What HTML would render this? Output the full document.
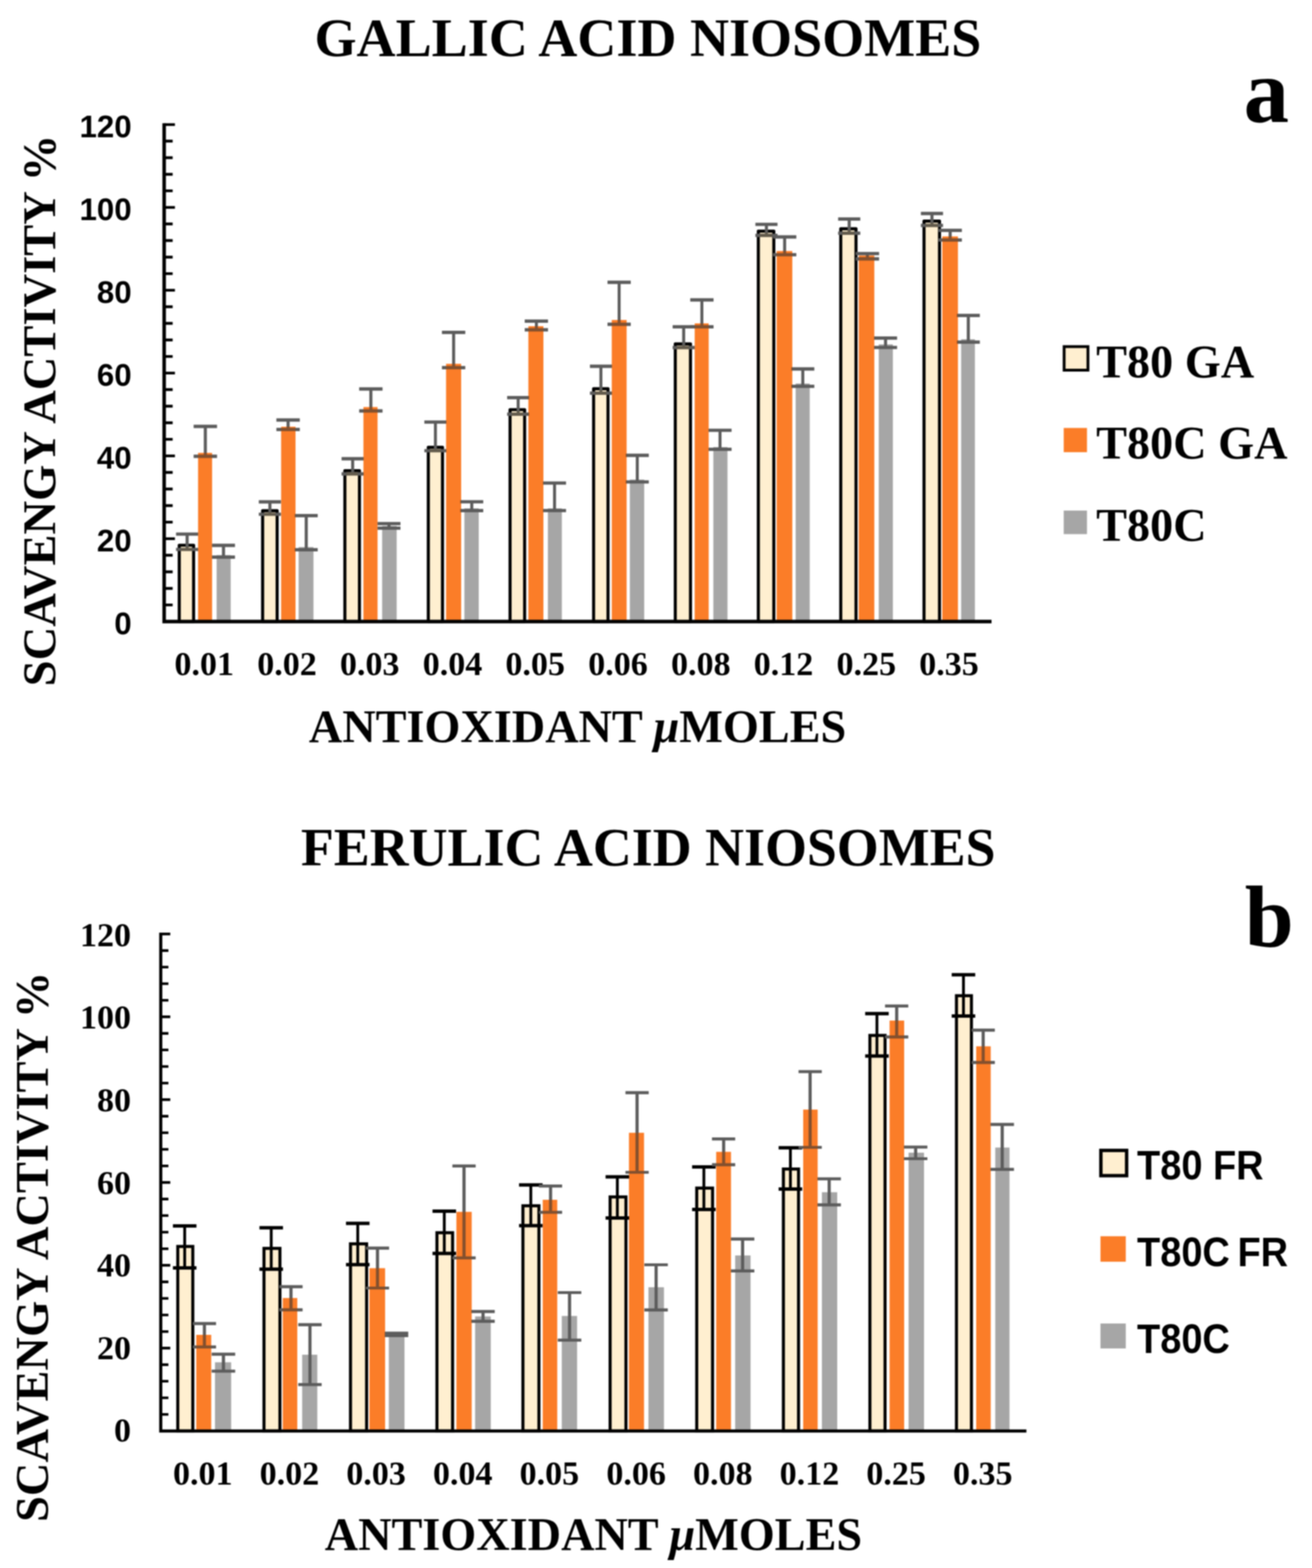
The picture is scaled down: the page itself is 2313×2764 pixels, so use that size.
<!DOCTYPE html>
<html lang="en">
<head>
<meta charset="utf-8">
<title>Scavenging activity of gallic acid and ferulic acid niosomes</title>
<style>
html,body{margin:0;padding:0;background:#fff}
body{width:2313px;height:2764px;overflow:hidden}
svg{display:block;filter:blur(0.8px)}
text{fill:#000;font-weight:700}
.se{font-family:"Liberation Serif","DejaVu Serif",serif}
.sa{font-family:"Liberation Sans","DejaVu Sans",sans-serif}
.mu{font-style:italic}
.eb{mix-blend-mode:luminosity}
</style>
</head>
<body>
<svg width="2313" height="2764" viewBox="0 0 2313 2764" role="img" aria-label="Bar charts of scavenging activity versus antioxidant micromoles">
<rect width="2313" height="2764" fill="#fff"/>
<g id="chart-a">
<text x="1142.3" y="99.3" font-size="95.3" text-anchor="middle" class="se">GALLIC ACID NIOSOMES</text>
<text x="2232.5" y="214.8" font-size="160" text-anchor="middle" class="se">a</text>
<text transform="translate(97.3 723.6) rotate(-90)" font-size="82" text-anchor="middle" class="se">SCAVENGY ACTIVITY %</text>
<text x="1018.2" y="1308.3" font-size="81.5" text-anchor="middle" class="se">ANTIOXIDANT <tspan class="mu">μ</tspan>MOLES</text>
<text x="232" y="1118.2" font-size="55" text-anchor="end" class="sa">0</text>
<text x="232" y="972.2" font-size="55" text-anchor="end" class="sa">20</text>
<text x="232" y="826.2" font-size="55" text-anchor="end" class="sa">40</text>
<text x="232" y="680.2" font-size="55" text-anchor="end" class="sa">60</text>
<text x="232" y="534.2" font-size="55" text-anchor="end" class="sa">80</text>
<text x="232" y="388.2" font-size="55" text-anchor="end" class="sa">100</text>
<text x="232" y="242.2" font-size="55" text-anchor="end" class="sa">120</text>
<rect x="316" y="961.1" width="25.3" height="134.5" fill="#ffefd0" stroke="#000" stroke-width="5.4" stroke-linejoin="round"/>
<rect x="349.2" y="798.3" width="24.7" height="297.3" fill="#fb7d28"/>
<rect x="381.9" y="978.5" width="24.8" height="117.1" fill="#a6a6a6"/>
<g class="eb" stroke="#5c5c5c" fill="none"><path d="M329.9 941.5V968.5" stroke-width="5.2"/><path d="M310.5 941.5H349.3M310.5 968.5H349.3" stroke-width="5.7"/></g><g opacity="0.5" stroke="#5c5c5c" fill="none"><path d="M329.9 941.5V968.5" stroke-width="5.2"/><path d="M310.5 941.5H349.3M310.5 968.5H349.3" stroke-width="5.7"/></g>
<g class="eb" stroke="#5c5c5c" fill="none"><path d="M362 751.7V804.3" stroke-width="5.2"/><path d="M341.5 751.7H382.5M341.5 804.3H382.5" stroke-width="5.7"/></g><g opacity="0.5" stroke="#5c5c5c" fill="none"><path d="M362 751.7V804.3" stroke-width="5.2"/><path d="M341.5 751.7H382.5M341.5 804.3H382.5" stroke-width="5.7"/></g>
<g class="eb" stroke="#5c5c5c" fill="none"><path d="M394 961.4V982.2" stroke-width="5.2"/><path d="M373.8 961.4H414.2M373.8 982.2H414.2" stroke-width="5.7"/></g><g opacity="0.5" stroke="#5c5c5c" fill="none"><path d="M394 961.4V982.2" stroke-width="5.2"/><path d="M373.8 961.4H414.2M373.8 982.2H414.2" stroke-width="5.7"/></g>
<rect x="463" y="900.2" width="25.6" height="195.4" fill="#ffefd0" stroke="#000" stroke-width="5.4" stroke-linejoin="round"/>
<rect x="495.6" y="752.2" width="25.4" height="343.4" fill="#fb7d28"/>
<rect x="526.5" y="964.3" width="26.1" height="131.3" fill="#a6a6a6"/>
<g class="eb" stroke="#5c5c5c" fill="none"><path d="M475.8 884.6V906.5" stroke-width="5.2"/><path d="M456.4 884.6H495.2M456.4 906.5H495.2" stroke-width="5.7"/></g><g opacity="0.5" stroke="#5c5c5c" fill="none"><path d="M475.8 884.6V906.5" stroke-width="5.2"/><path d="M456.4 884.6H495.2M456.4 906.5H495.2" stroke-width="5.7"/></g>
<g class="eb" stroke="#5c5c5c" fill="none"><path d="M507.9 740.3V757.1" stroke-width="5.2"/><path d="M487.4 740.3H528.4M487.4 757.1H528.4" stroke-width="5.7"/></g><g opacity="0.5" stroke="#5c5c5c" fill="none"><path d="M507.9 740.3V757.1" stroke-width="5.2"/><path d="M487.4 740.3H528.4M487.4 757.1H528.4" stroke-width="5.7"/></g>
<g class="eb" stroke="#5c5c5c" fill="none"><path d="M539.9 908.8V969.1" stroke-width="5.2"/><path d="M519.7 908.8H560.1M519.7 969.1H560.1" stroke-width="5.7"/></g><g opacity="0.5" stroke="#5c5c5c" fill="none"><path d="M539.9 908.8V969.1" stroke-width="5.2"/><path d="M519.7 908.8H560.1M519.7 969.1H560.1" stroke-width="5.7"/></g>
<rect x="608" y="829.7" width="25.7" height="265.9" fill="#ffefd0" stroke="#000" stroke-width="5.4" stroke-linejoin="round"/>
<rect x="640.7" y="717.5" width="24.9" height="378.1" fill="#fb7d28"/>
<rect x="673.7" y="927" width="25.6" height="168.6" fill="#a6a6a6"/>
<g class="eb" stroke="#5c5c5c" fill="none"><path d="M621.7 808.6V835.3" stroke-width="5.2"/><path d="M602.3 808.6H641.1M602.3 835.3H641.1" stroke-width="5.7"/></g><g opacity="0.5" stroke="#5c5c5c" fill="none"><path d="M621.7 808.6V835.3" stroke-width="5.2"/><path d="M602.3 808.6H641.1M602.3 835.3H641.1" stroke-width="5.7"/></g>
<g class="eb" stroke="#5c5c5c" fill="none"><path d="M653.8 685.7V724.4" stroke-width="5.2"/><path d="M633.3 685.7H674.3M633.3 724.4H674.3" stroke-width="5.7"/></g><g opacity="0.5" stroke="#5c5c5c" fill="none"><path d="M653.8 685.7V724.4" stroke-width="5.2"/><path d="M633.3 685.7H674.3M633.3 724.4H674.3" stroke-width="5.7"/></g>
<g class="eb" stroke="#5c5c5c" fill="none"><path d="M685.8 923V931" stroke-width="5.2"/><path d="M665.6 923H706M665.6 931H706" stroke-width="5.7"/></g><g opacity="0.5" stroke="#5c5c5c" fill="none"><path d="M685.8 923V931" stroke-width="5.2"/><path d="M665.6 923H706M665.6 931H706" stroke-width="5.7"/></g>
<rect x="755.1" y="788.5" width="25" height="307.1" fill="#ffefd0" stroke="#000" stroke-width="5.4" stroke-linejoin="round"/>
<rect x="786.4" y="641.3" width="26.6" height="454.3" fill="#fb7d28"/>
<rect x="818.7" y="896" width="25.3" height="199.6" fill="#a6a6a6"/>
<g class="eb" stroke="#5c5c5c" fill="none"><path d="M767.6 744V794.5" stroke-width="5.2"/><path d="M748.2 744H787M748.2 794.5H787" stroke-width="5.7"/></g><g opacity="0.5" stroke="#5c5c5c" fill="none"><path d="M767.6 744V794.5" stroke-width="5.2"/><path d="M748.2 744H787M748.2 794.5H787" stroke-width="5.7"/></g>
<g class="eb" stroke="#5c5c5c" fill="none"><path d="M799.7 585.8V648.1" stroke-width="5.2"/><path d="M779.2 585.8H820.2M779.2 648.1H820.2" stroke-width="5.7"/></g><g opacity="0.5" stroke="#5c5c5c" fill="none"><path d="M799.7 585.8V648.1" stroke-width="5.2"/><path d="M779.2 585.8H820.2M779.2 648.1H820.2" stroke-width="5.7"/></g>
<g class="eb" stroke="#5c5c5c" fill="none"><path d="M831.7 884.5V900.2" stroke-width="5.2"/><path d="M811.5 884.5H851.9M811.5 900.2H851.9" stroke-width="5.7"/></g><g opacity="0.5" stroke="#5c5c5c" fill="none"><path d="M831.7 884.5V900.2" stroke-width="5.2"/><path d="M811.5 884.5H851.9M811.5 900.2H851.9" stroke-width="5.7"/></g>
<rect x="899.2" y="722.1" width="25.7" height="373.5" fill="#ffefd0" stroke="#000" stroke-width="5.4" stroke-linejoin="round"/>
<rect x="931.5" y="575" width="26.5" height="520.6" fill="#fb7d28"/>
<rect x="965.9" y="896" width="24.6" height="199.6" fill="#a6a6a6"/>
<g class="eb" stroke="#5c5c5c" fill="none"><path d="M913.5 700.8V730.1" stroke-width="5.2"/><path d="M894.1 700.8H932.9M894.1 730.1H932.9" stroke-width="5.7"/></g><g opacity="0.5" stroke="#5c5c5c" fill="none"><path d="M913.5 700.8V730.1" stroke-width="5.2"/><path d="M894.1 700.8H932.9M894.1 730.1H932.9" stroke-width="5.7"/></g>
<g class="eb" stroke="#5c5c5c" fill="none"><path d="M945.6 566.2V581.3" stroke-width="5.2"/><path d="M925.1 566.2H966.1M925.1 581.3H966.1" stroke-width="5.7"/></g><g opacity="0.5" stroke="#5c5c5c" fill="none"><path d="M945.6 566.2V581.3" stroke-width="5.2"/><path d="M925.1 566.2H966.1M925.1 581.3H966.1" stroke-width="5.7"/></g>
<g class="eb" stroke="#5c5c5c" fill="none"><path d="M977.6 851.5V900" stroke-width="5.2"/><path d="M957.4 851.5H997.8M957.4 900H997.8" stroke-width="5.7"/></g><g opacity="0.5" stroke="#5c5c5c" fill="none"><path d="M977.6 851.5V900" stroke-width="5.2"/><path d="M957.4 851.5H997.8M957.4 900H997.8" stroke-width="5.7"/></g>
<rect x="1046.5" y="685.2" width="25.4" height="410.4" fill="#ffefd0" stroke="#000" stroke-width="5.4" stroke-linejoin="round"/>
<rect x="1078.5" y="564" width="26.2" height="531.6" fill="#fb7d28"/>
<rect x="1110.4" y="845.4" width="25.3" height="250.2" fill="#a6a6a6"/>
<g class="eb" stroke="#5c5c5c" fill="none"><path d="M1059.4 645.6V693.1" stroke-width="5.2"/><path d="M1040 645.6H1078.8M1040 693.1H1078.8" stroke-width="5.7"/></g><g opacity="0.5" stroke="#5c5c5c" fill="none"><path d="M1059.4 645.6V693.1" stroke-width="5.2"/><path d="M1040 645.6H1078.8M1040 693.1H1078.8" stroke-width="5.7"/></g>
<g class="eb" stroke="#5c5c5c" fill="none"><path d="M1091.5 497.6V571.6" stroke-width="5.2"/><path d="M1071 497.6H1112M1071 571.6H1112" stroke-width="5.7"/></g><g opacity="0.5" stroke="#5c5c5c" fill="none"><path d="M1091.5 497.6V571.6" stroke-width="5.2"/><path d="M1071 497.6H1112M1071 571.6H1112" stroke-width="5.7"/></g>
<g class="eb" stroke="#5c5c5c" fill="none"><path d="M1123.5 802.7V849.5" stroke-width="5.2"/><path d="M1103.3 802.7H1143.7M1103.3 849.5H1143.7" stroke-width="5.7"/></g><g opacity="0.5" stroke="#5c5c5c" fill="none"><path d="M1123.5 802.7V849.5" stroke-width="5.2"/><path d="M1103.3 802.7H1143.7M1103.3 849.5H1143.7" stroke-width="5.7"/></g>
<rect x="1190.5" y="606.2" width="26.8" height="489.4" fill="#ffefd0" stroke="#000" stroke-width="5.4" stroke-linejoin="round"/>
<rect x="1224.7" y="570" width="24.7" height="525.6" fill="#fb7d28"/>
<rect x="1257.6" y="788" width="24.9" height="307.6" fill="#a6a6a6"/>
<g class="eb" stroke="#5c5c5c" fill="none"><path d="M1205.3 576.1V612.6" stroke-width="5.2"/><path d="M1185.9 576.1H1224.7M1185.9 612.6H1224.7" stroke-width="5.7"/></g><g opacity="0.5" stroke="#5c5c5c" fill="none"><path d="M1205.3 576.1V612.6" stroke-width="5.2"/><path d="M1185.9 576.1H1224.7M1185.9 612.6H1224.7" stroke-width="5.7"/></g>
<g class="eb" stroke="#5c5c5c" fill="none"><path d="M1237.4 528.7V576.2" stroke-width="5.2"/><path d="M1216.9 528.7H1257.9M1216.9 576.2H1257.9" stroke-width="5.7"/></g><g opacity="0.5" stroke="#5c5c5c" fill="none"><path d="M1237.4 528.7V576.2" stroke-width="5.2"/><path d="M1216.9 528.7H1257.9M1216.9 576.2H1257.9" stroke-width="5.7"/></g>
<g class="eb" stroke="#5c5c5c" fill="none"><path d="M1269.4 758.5V792" stroke-width="5.2"/><path d="M1249.2 758.5H1289.6M1249.2 792H1289.6" stroke-width="5.7"/></g><g opacity="0.5" stroke="#5c5c5c" fill="none"><path d="M1269.4 758.5V792" stroke-width="5.2"/><path d="M1249.2 758.5H1289.6M1249.2 792H1289.6" stroke-width="5.7"/></g>
<rect x="1336.9" y="407.5" width="27.3" height="688.1" fill="#ffefd0" stroke="#000" stroke-width="5.4" stroke-linejoin="round"/>
<rect x="1369.2" y="442.5" width="27.6" height="653.1" fill="#fb7d28"/>
<rect x="1402.7" y="676" width="24.8" height="419.6" fill="#a6a6a6"/>
<g class="eb" stroke="#5c5c5c" fill="none"><path d="M1351.2 395.5V414.9" stroke-width="5.2"/><path d="M1331.8 395.5H1370.6M1331.8 414.9H1370.6" stroke-width="5.7"/></g><g opacity="0.5" stroke="#5c5c5c" fill="none"><path d="M1351.2 395.5V414.9" stroke-width="5.2"/><path d="M1331.8 395.5H1370.6M1331.8 414.9H1370.6" stroke-width="5.7"/></g>
<g class="eb" stroke="#5c5c5c" fill="none"><path d="M1383.3 417.7V449" stroke-width="5.2"/><path d="M1362.8 417.7H1403.8M1362.8 449H1403.8" stroke-width="5.7"/></g><g opacity="0.5" stroke="#5c5c5c" fill="none"><path d="M1383.3 417.7V449" stroke-width="5.2"/><path d="M1362.8 417.7H1403.8M1362.8 449H1403.8" stroke-width="5.7"/></g>
<g class="eb" stroke="#5c5c5c" fill="none"><path d="M1415.3 650.3V681" stroke-width="5.2"/><path d="M1395.1 650.3H1435.5M1395.1 681H1435.5" stroke-width="5.7"/></g><g opacity="0.5" stroke="#5c5c5c" fill="none"><path d="M1415.3 650.3V681" stroke-width="5.2"/><path d="M1395.1 650.3H1435.5M1395.1 681H1435.5" stroke-width="5.7"/></g>
<rect x="1482.2" y="403.2" width="26.9" height="692.4" fill="#ffefd0" stroke="#000" stroke-width="5.4" stroke-linejoin="round"/>
<rect x="1514" y="450.4" width="27.4" height="645.2" fill="#fb7d28"/>
<rect x="1549.2" y="607" width="24.9" height="488.6" fill="#a6a6a6"/>
<g class="eb" stroke="#5c5c5c" fill="none"><path d="M1497.1 386.2V411.1" stroke-width="5.2"/><path d="M1477.7 386.2H1516.5M1477.7 411.1H1516.5" stroke-width="5.7"/></g><g opacity="0.5" stroke="#5c5c5c" fill="none"><path d="M1497.1 386.2V411.1" stroke-width="5.2"/><path d="M1477.7 386.2H1516.5M1477.7 411.1H1516.5" stroke-width="5.7"/></g>
<g class="eb" stroke="#5c5c5c" fill="none"><path d="M1529.2 447V456.4" stroke-width="5.2"/><path d="M1508.7 447H1549.7M1508.7 456.4H1549.7" stroke-width="5.7"/></g><g opacity="0.5" stroke="#5c5c5c" fill="none"><path d="M1529.2 447V456.4" stroke-width="5.2"/><path d="M1508.7 447H1549.7M1508.7 456.4H1549.7" stroke-width="5.7"/></g>
<g class="eb" stroke="#5c5c5c" fill="none"><path d="M1561.2 595.8V612.5" stroke-width="5.2"/><path d="M1541 595.8H1581.4M1541 612.5H1581.4" stroke-width="5.7"/></g><g opacity="0.5" stroke="#5c5c5c" fill="none"><path d="M1561.2 595.8V612.5" stroke-width="5.2"/><path d="M1541 595.8H1581.4M1541 612.5H1581.4" stroke-width="5.7"/></g>
<rect x="1629" y="389.7" width="27.3" height="705.9" fill="#ffefd0" stroke="#000" stroke-width="5.4" stroke-linejoin="round"/>
<rect x="1661.2" y="416.7" width="27.6" height="678.9" fill="#fb7d28"/>
<rect x="1694.5" y="598" width="24.2" height="497.6" fill="#a6a6a6"/>
<g class="eb" stroke="#5c5c5c" fill="none"><path d="M1643 376.3V397.3" stroke-width="5.2"/><path d="M1623.6 376.3H1662.4M1623.6 397.3H1662.4" stroke-width="5.7"/></g><g opacity="0.5" stroke="#5c5c5c" fill="none"><path d="M1643 376.3V397.3" stroke-width="5.2"/><path d="M1623.6 376.3H1662.4M1623.6 397.3H1662.4" stroke-width="5.7"/></g>
<g class="eb" stroke="#5c5c5c" fill="none"><path d="M1675.1 406.1V423.2" stroke-width="5.2"/><path d="M1654.6 406.1H1695.6M1654.6 423.2H1695.6" stroke-width="5.7"/></g><g opacity="0.5" stroke="#5c5c5c" fill="none"><path d="M1675.1 406.1V423.2" stroke-width="5.2"/><path d="M1654.6 406.1H1695.6M1654.6 423.2H1695.6" stroke-width="5.7"/></g>
<g class="eb" stroke="#5c5c5c" fill="none"><path d="M1707.1 556.1V603.1" stroke-width="5.2"/><path d="M1686.9 556.1H1727.3M1686.9 603.1H1727.3" stroke-width="5.7"/></g><g opacity="0.5" stroke="#5c5c5c" fill="none"><path d="M1707.1 556.1V603.1" stroke-width="5.2"/><path d="M1686.9 556.1H1727.3M1686.9 603.1H1727.3" stroke-width="5.7"/></g>
<path d="M289.4 1066.4h15M289.4 1037.2h15M289.4 1008h15M289.4 978.8h15M289.4 949.6h19M289.4 920.4h15M289.4 891.2h15M289.4 862h15M289.4 832.8h15M289.4 803.6h19M289.4 774.4h15M289.4 745.2h15M289.4 716h15M289.4 686.8h15M289.4 657.6h19M289.4 628.4h15M289.4 599.2h15M289.4 570h15M289.4 540.8h15M289.4 511.6h19M289.4 482.4h15M289.4 453.2h15M289.4 424h15M289.4 394.8h15M289.4 365.6h19M289.4 336.4h15M289.4 307.2h15M289.4 278h15M289.4 248.8h15M289.4 219.6h19" stroke="#000" stroke-width="4.9" fill="none"/>
<path d="M289.4 217.15V1095.6H1748" stroke="#000" stroke-width="6.2" fill="none" stroke-linejoin="miter"/>
<text x="360" y="1189.7" font-size="60" text-anchor="middle" class="se">0.01</text>
<text x="505.9" y="1189.7" font-size="60" text-anchor="middle" class="se">0.02</text>
<text x="651.8" y="1189.7" font-size="60" text-anchor="middle" class="se">0.03</text>
<text x="797.7" y="1189.7" font-size="60" text-anchor="middle" class="se">0.04</text>
<text x="943.6" y="1189.7" font-size="60" text-anchor="middle" class="se">0.05</text>
<text x="1089.5" y="1189.7" font-size="60" text-anchor="middle" class="se">0.06</text>
<text x="1235.4" y="1189.7" font-size="60" text-anchor="middle" class="se">0.08</text>
<text x="1381.3" y="1189.7" font-size="60" text-anchor="middle" class="se">0.12</text>
<text x="1527.2" y="1189.7" font-size="60" text-anchor="middle" class="se">0.25</text>
<text x="1673.1" y="1189.7" font-size="60" text-anchor="middle" class="se">0.35</text>
<rect x="1876" y="611" width="42" height="41.5" fill="#ffefd0" stroke="#000" stroke-width="5"/>
<rect x="1875.3" y="754.4" width="41" height="42.7" fill="#fb7d28"/>
<rect x="1875.3" y="900" width="41" height="41.5" fill="#a6a6a6"/>
<text x="1932.5" y="665.2" font-size="81.5" text-anchor="start" class="se">T80 GA</text>
<text x="1932.5" y="807.5" font-size="81.5" text-anchor="start" class="se">T80C GA</text>
<text x="1932.5" y="952.8" font-size="81.5" text-anchor="start" class="se">T80C</text>
</g>
<g id="chart-b">
<text x="1142.8" y="1526" font-size="95" text-anchor="middle" class="se">FERULIC ACID NIOSOMES</text>
<text x="2237.5" y="1669.2" font-size="155" text-anchor="middle" class="se">b</text>
<text transform="translate(83.6 2197.8) rotate(-90)" font-size="81.8" text-anchor="middle" class="se">SCAVENGY ACTIVITY %</text>
<text x="1046.2" y="2732" font-size="81.5" text-anchor="middle" class="se">ANTIOXIDANT <tspan class="mu">μ</tspan>MOLES</text>
<text x="231" y="2541.3" font-size="60" text-anchor="end" class="se">0</text>
<text x="231" y="2395.7" font-size="60" text-anchor="end" class="se">20</text>
<text x="231" y="2250.1" font-size="60" text-anchor="end" class="se">40</text>
<text x="231" y="2104.5" font-size="60" text-anchor="end" class="se">60</text>
<text x="231" y="1958.9" font-size="60" text-anchor="end" class="se">80</text>
<text x="231" y="1813.3" font-size="60" text-anchor="end" class="se">100</text>
<text x="231" y="1667.7" font-size="60" text-anchor="end" class="se">120</text>
<rect x="313.4" y="2197.2" width="26.5" height="325.2" fill="#ffefd0" stroke="#000" stroke-width="5.4"/>
<rect x="346" y="2353" width="26.4" height="169.4" fill="#fb7d28"/>
<rect x="379" y="2401.4" width="28.5" height="121" fill="#a6a6a6"/>
<g stroke="#000" fill="none"><path d="M325.6 2160.9V2234.9" stroke-width="5"/><path d="M304.85 2160.9H346.35M304.85 2234.9H346.35" stroke-width="6"/></g>
<g class="eb" stroke="#5c5c5c" fill="none"><path d="M360.4 2333.1V2374.3" stroke-width="5.4"/><path d="M340 2333.1H380.8M340 2374.3H380.8" stroke-width="5.2"/></g><g opacity="0.5" stroke="#5c5c5c" fill="none"><path d="M360.4 2333.1V2374.3" stroke-width="5.4"/><path d="M340 2333.1H380.8M340 2374.3H380.8" stroke-width="5.2"/></g>
<g class="eb" stroke="#5c5c5c" fill="none"><path d="M393.9 2387.1V2417" stroke-width="5.4"/><path d="M373.3 2387.1H414.5M373.3 2417H414.5" stroke-width="5.2"/></g><g opacity="0.5" stroke="#5c5c5c" fill="none"><path d="M393.9 2387.1V2417" stroke-width="5.4"/><path d="M373.3 2387.1H414.5M373.3 2417H414.5" stroke-width="5.2"/></g>
<rect x="465.4" y="2200.6" width="28.1" height="321.8" fill="#ffefd0" stroke="#000" stroke-width="5.4"/>
<rect x="498.5" y="2288.1" width="25.6" height="234.3" fill="#fb7d28"/>
<rect x="532.7" y="2388" width="26.7" height="134.4" fill="#a6a6a6"/>
<g stroke="#000" fill="none"><path d="M478.15 2164.3V2237.2" stroke-width="5"/><path d="M457.4 2164.3H498.9M457.4 2237.2H498.9" stroke-width="6"/></g>
<g class="eb" stroke="#5c5c5c" fill="none"><path d="M512.95 2268.2V2308.9" stroke-width="5.4"/><path d="M492.55 2268.2H533.35M492.55 2308.9H533.35" stroke-width="5.2"/></g><g opacity="0.5" stroke="#5c5c5c" fill="none"><path d="M512.95 2268.2V2308.9" stroke-width="5.4"/><path d="M492.55 2268.2H533.35M492.55 2308.9H533.35" stroke-width="5.2"/></g>
<g class="eb" stroke="#5c5c5c" fill="none"><path d="M546.45 2335.1V2440.6" stroke-width="5.4"/><path d="M525.85 2335.1H567.05M525.85 2440.6H567.05" stroke-width="5.2"/></g><g opacity="0.5" stroke="#5c5c5c" fill="none"><path d="M546.45 2335.1V2440.6" stroke-width="5.4"/><path d="M525.85 2335.1H567.05M525.85 2440.6H567.05" stroke-width="5.2"/></g>
<rect x="617.9" y="2192.6" width="28.4" height="329.8" fill="#ffefd0" stroke="#000" stroke-width="5.4"/>
<rect x="651.3" y="2235.5" width="27.6" height="286.9" fill="#fb7d28"/>
<rect x="685.5" y="2352.5" width="27.6" height="169.9" fill="#a6a6a6"/>
<g stroke="#000" fill="none"><path d="M630.7 2156.6V2229.2" stroke-width="5"/><path d="M609.95 2156.6H651.45M609.95 2229.2H651.45" stroke-width="6"/></g>
<g class="eb" stroke="#5c5c5c" fill="none"><path d="M665.5 2200.2V2270.5" stroke-width="5.4"/><path d="M645.1 2200.2H685.9M645.1 2270.5H685.9" stroke-width="5.2"/></g><g opacity="0.5" stroke="#5c5c5c" fill="none"><path d="M665.5 2200.2V2270.5" stroke-width="5.4"/><path d="M645.1 2200.2H685.9M645.1 2270.5H685.9" stroke-width="5.2"/></g>
<g class="eb" stroke="#5c5c5c" fill="none"><path d="M699 2350V2354.5" stroke-width="5.4"/><path d="M678.4 2350H719.6M678.4 2354.5H719.6" stroke-width="5.2"/></g><g opacity="0.5" stroke="#5c5c5c" fill="none"><path d="M699 2350V2354.5" stroke-width="5.4"/><path d="M678.4 2350H719.6M678.4 2354.5H719.6" stroke-width="5.2"/></g>
<rect x="770.3" y="2173" width="27.6" height="349.4" fill="#ffefd0" stroke="#000" stroke-width="5.4"/>
<rect x="804.6" y="2136.2" width="27" height="386.2" fill="#fb7d28"/>
<rect x="837.6" y="2320.6" width="27.6" height="201.8" fill="#a6a6a6"/>
<g stroke="#000" fill="none"><path d="M783.25 2135.1V2209.6" stroke-width="5"/><path d="M762.5 2135.1H804M762.5 2209.6H804" stroke-width="6"/></g>
<g class="eb" stroke="#5c5c5c" fill="none"><path d="M818.05 2055.4V2217.3" stroke-width="5.4"/><path d="M797.65 2055.4H838.45M797.65 2217.3H838.45" stroke-width="5.2"/></g><g opacity="0.5" stroke="#5c5c5c" fill="none"><path d="M818.05 2055.4V2217.3" stroke-width="5.4"/><path d="M797.65 2055.4H838.45M797.65 2217.3H838.45" stroke-width="5.2"/></g>
<g class="eb" stroke="#5c5c5c" fill="none"><path d="M851.55 2311.8V2329.1" stroke-width="5.4"/><path d="M830.95 2311.8H872.15M830.95 2329.1H872.15" stroke-width="5.2"/></g><g opacity="0.5" stroke="#5c5c5c" fill="none"><path d="M851.55 2311.8V2329.1" stroke-width="5.4"/><path d="M830.95 2311.8H872.15M830.95 2329.1H872.15" stroke-width="5.2"/></g>
<rect x="921.9" y="2125.5" width="28.2" height="396.9" fill="#ffefd0" stroke="#000" stroke-width="5.4"/>
<rect x="956.8" y="2114.9" width="25.6" height="407.5" fill="#fb7d28"/>
<rect x="990.4" y="2319.7" width="27" height="202.7" fill="#a6a6a6"/>
<g stroke="#000" fill="none"><path d="M935.8 2088.7V2160.4" stroke-width="5"/><path d="M915.05 2088.7H956.55M915.05 2160.4H956.55" stroke-width="6"/></g>
<g class="eb" stroke="#5c5c5c" fill="none"><path d="M970.6 2090.7V2137" stroke-width="5.4"/><path d="M950.2 2090.7H991M950.2 2137H991" stroke-width="5.2"/></g><g opacity="0.5" stroke="#5c5c5c" fill="none"><path d="M970.6 2090.7V2137" stroke-width="5.4"/><path d="M950.2 2090.7H991M950.2 2137H991" stroke-width="5.2"/></g>
<g class="eb" stroke="#5c5c5c" fill="none"><path d="M1004.1 2278.5V2362.4" stroke-width="5.4"/><path d="M983.5 2278.5H1024.7M983.5 2362.4H1024.7" stroke-width="5.2"/></g><g opacity="0.5" stroke="#5c5c5c" fill="none"><path d="M1004.1 2278.5V2362.4" stroke-width="5.4"/><path d="M983.5 2278.5H1024.7M983.5 2362.4H1024.7" stroke-width="5.2"/></g>
<rect x="1075.6" y="2109.9" width="27.9" height="412.5" fill="#ffefd0" stroke="#000" stroke-width="5.4"/>
<rect x="1108.8" y="1996.8" width="26.6" height="525.6" fill="#fb7d28"/>
<rect x="1143.2" y="2269.1" width="27.3" height="253.3" fill="#a6a6a6"/>
<g stroke="#000" fill="none"><path d="M1088.35 2074.4V2147" stroke-width="5"/><path d="M1067.6 2074.4H1109.1M1067.6 2147H1109.1" stroke-width="6"/></g>
<g class="eb" stroke="#5c5c5c" fill="none"><path d="M1123.15 1926.2V2066.5" stroke-width="5.4"/><path d="M1102.75 1926.2H1143.55M1102.75 2066.5H1143.55" stroke-width="5.2"/></g><g opacity="0.5" stroke="#5c5c5c" fill="none"><path d="M1123.15 1926.2V2066.5" stroke-width="5.4"/><path d="M1102.75 1926.2H1143.55M1102.75 2066.5H1143.55" stroke-width="5.2"/></g>
<g class="eb" stroke="#5c5c5c" fill="none"><path d="M1156.65 2229.5V2309.2" stroke-width="5.4"/><path d="M1136.05 2229.5H1177.25M1136.05 2309.2H1177.25" stroke-width="5.2"/></g><g opacity="0.5" stroke="#5c5c5c" fill="none"><path d="M1156.65 2229.5V2309.2" stroke-width="5.4"/><path d="M1136.05 2229.5H1177.25M1136.05 2309.2H1177.25" stroke-width="5.2"/></g>
<rect x="1228.3" y="2094.3" width="27.9" height="428.1" fill="#ffefd0" stroke="#000" stroke-width="5.4"/>
<rect x="1262.6" y="2030.4" width="26.1" height="492" fill="#fb7d28"/>
<rect x="1296.1" y="2213.1" width="27.1" height="309.3" fill="#a6a6a6"/>
<g stroke="#000" fill="none"><path d="M1240.9 2056.9V2132" stroke-width="5"/><path d="M1220.15 2056.9H1261.65M1220.15 2132H1261.65" stroke-width="6"/></g>
<g class="eb" stroke="#5c5c5c" fill="none"><path d="M1275.7 2007.7V2053.2" stroke-width="5.4"/><path d="M1255.3 2007.7H1296.1M1255.3 2053.2H1296.1" stroke-width="5.2"/></g><g opacity="0.5" stroke="#5c5c5c" fill="none"><path d="M1275.7 2007.7V2053.2" stroke-width="5.4"/><path d="M1255.3 2007.7H1296.1M1255.3 2053.2H1296.1" stroke-width="5.2"/></g>
<g class="eb" stroke="#5c5c5c" fill="none"><path d="M1309.2 2184.1V2240.4" stroke-width="5.4"/><path d="M1288.6 2184.1H1329.8M1288.6 2240.4H1329.8" stroke-width="5.2"/></g><g opacity="0.5" stroke="#5c5c5c" fill="none"><path d="M1309.2 2184.1V2240.4" stroke-width="5.4"/><path d="M1288.6 2184.1H1329.8M1288.6 2240.4H1329.8" stroke-width="5.2"/></g>
<rect x="1381.1" y="2060.7" width="26.7" height="461.7" fill="#ffefd0" stroke="#000" stroke-width="5.4"/>
<rect x="1416" y="1955.9" width="25.5" height="566.5" fill="#fb7d28"/>
<rect x="1449" y="2101.6" width="27" height="420.8" fill="#a6a6a6"/>
<g stroke="#000" fill="none"><path d="M1393.45 2023.3V2095.9" stroke-width="5"/><path d="M1372.7 2023.3H1414.2M1372.7 2095.9H1414.2" stroke-width="6"/></g>
<g class="eb" stroke="#5c5c5c" fill="none"><path d="M1428.25 1889V2022.5" stroke-width="5.4"/><path d="M1407.85 1889H1448.65M1407.85 2022.5H1448.65" stroke-width="5.2"/></g><g opacity="0.5" stroke="#5c5c5c" fill="none"><path d="M1428.25 1889V2022.5" stroke-width="5.4"/><path d="M1407.85 1889H1448.65M1407.85 2022.5H1448.65" stroke-width="5.2"/></g>
<g class="eb" stroke="#5c5c5c" fill="none"><path d="M1461.75 2078V2123.8" stroke-width="5.4"/><path d="M1441.15 2078H1482.35M1441.15 2123.8H1482.35" stroke-width="5.2"/></g><g opacity="0.5" stroke="#5c5c5c" fill="none"><path d="M1461.75 2078V2123.8" stroke-width="5.4"/><path d="M1441.15 2078H1482.35M1441.15 2123.8H1482.35" stroke-width="5.2"/></g>
<rect x="1533.6" y="1825.2" width="26.7" height="697.2" fill="#ffefd0" stroke="#000" stroke-width="5.4"/>
<rect x="1568.3" y="1799" width="25.7" height="723.4" fill="#fb7d28"/>
<rect x="1601.8" y="2031.9" width="27.2" height="490.5" fill="#a6a6a6"/>
<g stroke="#000" fill="none"><path d="M1546 1786.8V1861.6" stroke-width="5"/><path d="M1525.25 1786.8H1566.75M1525.25 1861.6H1566.75" stroke-width="6"/></g>
<g class="eb" stroke="#5c5c5c" fill="none"><path d="M1580.8 1773.3V1827.9" stroke-width="5.4"/><path d="M1560.4 1773.3H1601.2M1560.4 1827.9H1601.2" stroke-width="5.2"/></g><g opacity="0.5" stroke="#5c5c5c" fill="none"><path d="M1580.8 1773.3V1827.9" stroke-width="5.4"/><path d="M1560.4 1773.3H1601.2M1560.4 1827.9H1601.2" stroke-width="5.2"/></g>
<g class="eb" stroke="#5c5c5c" fill="none"><path d="M1614.3 2022V2042.5" stroke-width="5.4"/><path d="M1593.7 2022H1634.9M1593.7 2042.5H1634.9" stroke-width="5.2"/></g><g opacity="0.5" stroke="#5c5c5c" fill="none"><path d="M1614.3 2022V2042.5" stroke-width="5.4"/><path d="M1593.7 2022H1634.9M1593.7 2042.5H1634.9" stroke-width="5.2"/></g>
<rect x="1686.2" y="1755.2" width="26.4" height="767.2" fill="#ffefd0" stroke="#000" stroke-width="5.4"/>
<rect x="1721" y="1844.4" width="25.6" height="678" fill="#fb7d28"/>
<rect x="1754.6" y="2022.8" width="25.1" height="499.6" fill="#a6a6a6"/>
<g stroke="#000" fill="none"><path d="M1698.55 1718.3V1790.9" stroke-width="5"/><path d="M1677.8 1718.3H1719.3M1677.8 1790.9H1719.3" stroke-width="6"/></g>
<g class="eb" stroke="#5c5c5c" fill="none"><path d="M1733.35 1815.9V1872.9" stroke-width="5.4"/><path d="M1712.95 1815.9H1753.75M1712.95 1872.9H1753.75" stroke-width="5.2"/></g><g opacity="0.5" stroke="#5c5c5c" fill="none"><path d="M1733.35 1815.9V1872.9" stroke-width="5.4"/><path d="M1712.95 1815.9H1753.75M1712.95 1872.9H1753.75" stroke-width="5.2"/></g>
<g class="eb" stroke="#5c5c5c" fill="none"><path d="M1766.85 1982.1V2061.3" stroke-width="5.4"/><path d="M1746.25 1982.1H1787.45M1746.25 2061.3H1787.45" stroke-width="5.2"/></g><g opacity="0.5" stroke="#5c5c5c" fill="none"><path d="M1766.85 1982.1V2061.3" stroke-width="5.4"/><path d="M1746.25 1982.1H1787.45M1746.25 2061.3H1787.45" stroke-width="5.2"/></g>
<path d="M283.4 2493.2h13.5M283.4 2464h13.5M283.4 2434.8h13.5M283.4 2405.6h13.5M283.4 2376.4h16.8M283.4 2347.2h13.5M283.4 2318h13.5M283.4 2288.8h13.5M283.4 2259.6h13.5M283.4 2230.4h16.8M283.4 2201.2h13.5M283.4 2172h13.5M283.4 2142.8h13.5M283.4 2113.6h13.5M283.4 2084.4h16.8M283.4 2055.2h13.5M283.4 2026h13.5M283.4 1996.8h13.5M283.4 1967.6h13.5M283.4 1938.4h16.8M283.4 1909.2h13.5M283.4 1880h13.5M283.4 1850.8h13.5M283.4 1821.6h13.5M283.4 1792.4h16.8M283.4 1763.2h13.5M283.4 1734h13.5M283.4 1704.8h13.5M283.4 1675.6h13.5M283.4 1646.4h16.8" stroke="#000" stroke-width="4.6" fill="none"/>
<path d="M283.4 1644.1V2522.4H1809.5" stroke="#000" stroke-width="5.5" fill="none" stroke-linejoin="miter"/>
<text x="357.4" y="2617.4" font-size="60" text-anchor="middle" class="se">0.01</text>
<text x="510.2" y="2617.4" font-size="60" text-anchor="middle" class="se">0.02</text>
<text x="663" y="2617.4" font-size="60" text-anchor="middle" class="se">0.03</text>
<text x="815.8" y="2617.4" font-size="60" text-anchor="middle" class="se">0.04</text>
<text x="968.6" y="2617.4" font-size="60" text-anchor="middle" class="se">0.05</text>
<text x="1121.4" y="2617.4" font-size="60" text-anchor="middle" class="se">0.06</text>
<text x="1274.2" y="2617.4" font-size="60" text-anchor="middle" class="se">0.08</text>
<text x="1427" y="2617.4" font-size="60" text-anchor="middle" class="se">0.12</text>
<text x="1579.8" y="2617.4" font-size="60" text-anchor="middle" class="se">0.25</text>
<text x="1732.6" y="2617.4" font-size="60" text-anchor="middle" class="se">0.35</text>
<rect x="1940.8" y="2027.9" width="45.4" height="44.5" fill="#ffefd0" stroke="#000" stroke-width="6"/>
<rect x="1940.1" y="2179.2" width="44.6" height="44.9" fill="#fb7d28"/>
<rect x="1940.1" y="2333" width="44.6" height="44" fill="#a6a6a6"/>
<text transform="translate(2004.5 2079) scale(0.93 1)" font-size="72" class="sa">T80 FR</text>
<text transform="translate(2004.5 2231.7) scale(0.93 1)" font-size="72" class="sa" word-spacing="-5.5">T80C FR</text>
<text transform="translate(2004.5 2384.6) scale(0.93 1)" font-size="72" class="sa">T80C</text>
</g>
</svg>
</body>
</html>
